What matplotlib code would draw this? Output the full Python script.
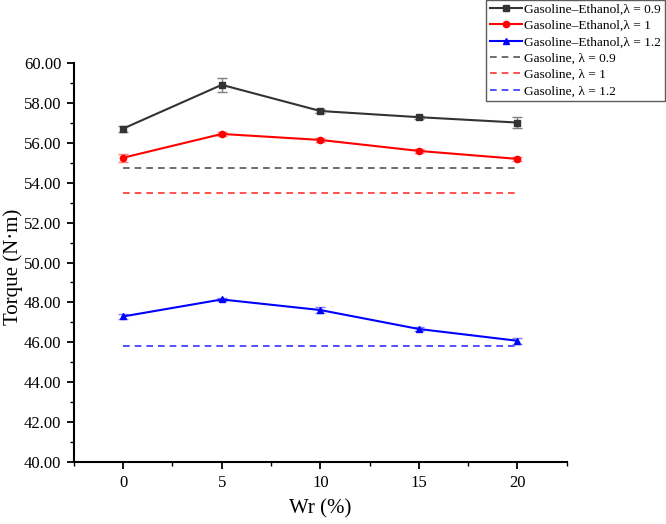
import numpy as np
import matplotlib
matplotlib.use("Agg")
import matplotlib.pyplot as plt
import matplotlib.ticker as mticker

plt.rcParams["font.family"] = ["Liberation Serif", "DejaVu Serif"]

# Data
wr = [0, 5, 10, 15, 20]

ge_09 = [56.71, 58.90, 57.59, 57.28, 57.01]
ge_09_err = [0.15, 0.34, 0.10, 0.08, 0.27]
ge_10 = [55.25, 56.44, 56.14, 55.59, 55.19]
ge_10_err = [0.19, 0.10, 0.12, 0.08, 0.12]
ge_12 = [47.30, 48.15, 47.62, 46.67, 46.08]
ge_12_err = [0.12, 0.08, 0.15, 0.08, 0.15]

gas_09 = 54.72
gas_10 = 53.50
gas_12 = 45.83

fig = plt.figure(figsize=(6.66, 5.24), dpi=100)
ax = fig.add_axes([0.111, 0.118, 0.740, 0.762])

handles = []
# Gasoline-Ethanol blends (solid with error bars)
h = ax.errorbar(wr, ge_09, yerr=ge_09_err, color="#333333", marker="s", ms=4.5,
                lw=1.5, ecolor="#7f7f7f", elinewidth=1.0, capsize=3.5, capthick=1.0,
                label="Gasoline\u2013Ethanol,\u03bb = 0.9", zorder=3)
handles.append(h.lines[0])
h = ax.errorbar(wr, ge_10, yerr=ge_10_err, color="#ff0000", marker="o", ms=4.5,
                lw=1.5, ecolor="#ff7f7f", elinewidth=1.0, capsize=3.5, capthick=1.0,
                label="Gasoline\u2013Ethanol,\u03bb = 1", zorder=3)
handles.append(h.lines[0])
h = ax.errorbar(wr, ge_12, yerr=ge_12_err, color="#0000ff", marker="^", ms=4.5,
                lw=1.5, ecolor="#7f7fff", elinewidth=1.0, capsize=3.5, capthick=1.0,
                label="Gasoline\u2013Ethanol,\u03bb = 1.2", zorder=3)
handles.append(h.lines[0])

# Pure gasoline references (dashed)
h, = ax.plot([wr[0], wr[-1]], [gas_09, gas_09], color="#555555", ls=(0, (4, 3)),
             lw=1.2, label="Gasoline, \u03bb = 0.9")
handles.append(h)
h, = ax.plot([wr[0], wr[-1]], [gas_10, gas_10], color="#ff3333", ls=(0, (4, 3)),
             lw=1.2, label="Gasoline, \u03bb = 1")
handles.append(h)
h, = ax.plot([wr[0], wr[-1]], [gas_12, gas_12], color="#3333ff", ls=(0, (4, 3)),
             lw=1.2, label="Gasoline, \u03bb = 1.2")
handles.append(h)
labels = [hd.get_label() for hd in handles]
labels[:3] = ["Gasoline\u2013Ethanol,\u03bb = 0.9",
              "Gasoline\u2013Ethanol,\u03bb = 1",
              "Gasoline\u2013Ethanol,\u03bb = 1.2"]

ax.set_xlim(-2.5, 22.5)
ax.set_ylim(40, 60)
ax.set_xticks(wr)
ax.xaxis.set_minor_locator(mticker.MultipleLocator(2.5))
ax.yaxis.set_major_locator(mticker.MultipleLocator(2))
ax.yaxis.set_minor_locator(mticker.MultipleLocator(1))
ax.yaxis.set_major_formatter(mticker.FormatStrFormatter("%.2f"))

for s in ["top", "right"]:
    ax.spines[s].set_visible(False)
for s in ["left", "bottom"]:
    ax.spines[s].set_linewidth(1.5)

ax.tick_params(which="major", direction="out", length=5, width=1.3,
               labelsize=12, colors="black", pad=4)
ax.tick_params(which="minor", direction="out", length=3, width=1.0)

ax.set_xlabel("Wr (%)", fontsize=15, labelpad=6)
ax.set_ylabel("Torque (N\u00b7m)", fontsize=15)
ax.yaxis.set_label_coords(-0.103, 0.49)

leg = fig.legend(handles, labels, loc="upper right", bbox_to_anchor=(0.998, 1.0),
                 fontsize=9.6, frameon=True, fancybox=False, edgecolor="#333333",
                 handlelength=2.4, handletextpad=0.2, labelspacing=0.3,
                 borderpad=0.25, borderaxespad=0.0)
leg.get_frame().set_linewidth(1.0)

fig.savefig("out.png", dpi=100)
